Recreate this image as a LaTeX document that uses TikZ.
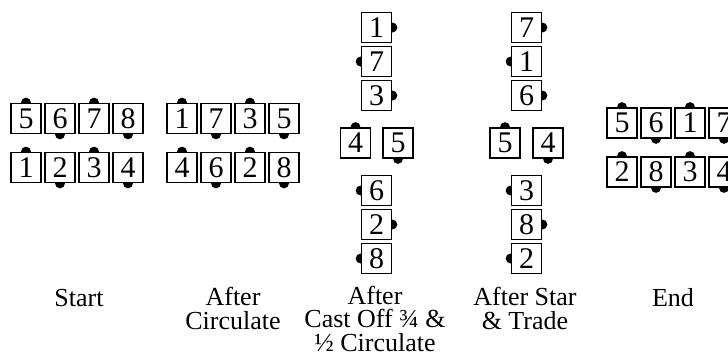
\documentclass[tikz,border=0pt]{standalone}
\usepackage{fontspec}
\setmainfont{Liberation Serif}
\usetikzlibrary{backgrounds}
\begin{document}
\begin{tikzpicture}[x=1pt,y=-1pt,
  dancer/.style={draw, line width=1.7pt, fill=white, minimum width=30pt, minimum height=30pt, inner sep=0pt, font=\fontsize{30}{30}\selectfont},
  lbl/.style={anchor=base, align=center, inner sep=0pt, font=\fontsize{26}{23.5}\selectfont},
  facing/.style={fill=black}]
\useasboundingbox (0,0) rectangle (728,354);
% Start
\node[dancer] (a5) at (26,118.5) {5};
\node[dancer] (a6) at (60,118.5) {6};
\node[dancer] (a7) at (94,118.5) {7};
\node[dancer] (a8) at (128,118.5) {8};
\node[dancer] (a1) at (26,167.5) {1};
\node[dancer] (a2) at (60,167.5) {2};
\node[dancer] (a3) at (94,167.5) {3};
\node[dancer] (a4) at (128,167.5) {4};
% After Circulate
\node[dancer] (b1) at (182,118.5) {1};
\node[dancer] (b7) at (216,118.5) {7};
\node[dancer] (b3) at (250,118.5) {3};
\node[dancer] (b5) at (284,118.5) {5};
\node[dancer] (b4) at (182,167.5) {4};
\node[dancer] (b6) at (216,167.5) {6};
\node[dancer] (b2) at (250,167.5) {2};
\node[dancer] (b8) at (284,167.5) {8};
% After Cast Off
\node[dancer] (c1) at (376.5,27.5) {1};
\node[dancer] (c7) at (376.5,61.5) {7};
\node[dancer] (c3) at (376.5,95.5) {3};
\node[dancer] (c4) at (355.5,143) {4};
\node[dancer] (c5) at (398,143) {5};
\node[dancer] (c6) at (376.5,190.5) {6};
\node[dancer] (c2) at (376.5,224.5) {2};
\node[dancer] (c8) at (376.5,258.5) {8};
% After Star & Trade
\node[dancer] (d7) at (526.5,27.5) {7};
\node[dancer] (d1) at (526.5,61.5) {1};
\node[dancer] (d6) at (526.5,95.5) {6};
\node[dancer] (d5) at (505,143) {5};
\node[dancer] (d4) at (548,143) {4};
\node[dancer] (d3) at (526.5,190.5) {3};
\node[dancer] (d8) at (526.5,224.5) {8};
\node[dancer] (d2) at (526.5,258.5) {2};
% End
\node[dancer] (e5) at (622,123) {5};
\node[dancer] (e6) at (656,123) {6};
\node[dancer] (e1) at (690,123) {1};
\node[dancer] (e7) at (724,123) {7};
\node[dancer] (e2) at (622,172) {2};
\node[dancer] (e8) at (656,172) {8};
\node[dancer] (e3) at (690,172) {3};
\node[dancer] (e4) at (724,172) {4};
% labels (base = baseline of last line)
\node[lbl] (lstart) at (79,306) {Start};
\node[lbl] (lcirc) at (233,329) {After\\Circulate};
\node[lbl] (lcast) at (375,351) {After\\Cast Off ¾ \&\\½ Circulate};
\node[lbl] (lstar) at (525,329) {After Star\\\& Trade};
\node[lbl] (lend) at (673,306) {End};
\begin{pgfonlayer}{background}
\fill[white] (0,0) rectangle (728,354);
\foreach \n in {a5,a7,a1,a3,b1,b3,b4,b2,c4,d5,e5,e1,e2,e3}
  \fill[facing] (\n.north) circle (5pt);
\foreach \n in {a6,a8,a2,a4,b7,b5,b6,b8,c5,d4,e6,e7,e8,e4}
  \fill[facing] (\n.south) circle (5pt);
\foreach \n in {c1,c3,c2,d7,d6,d8}
  \fill[facing] (\n.east) circle (5pt);
\foreach \n in {c7,c6,c8,d1,d3,d2}
  \fill[facing] (\n.west) circle (5pt);
\end{pgfonlayer}
\end{tikzpicture}
\end{document}
